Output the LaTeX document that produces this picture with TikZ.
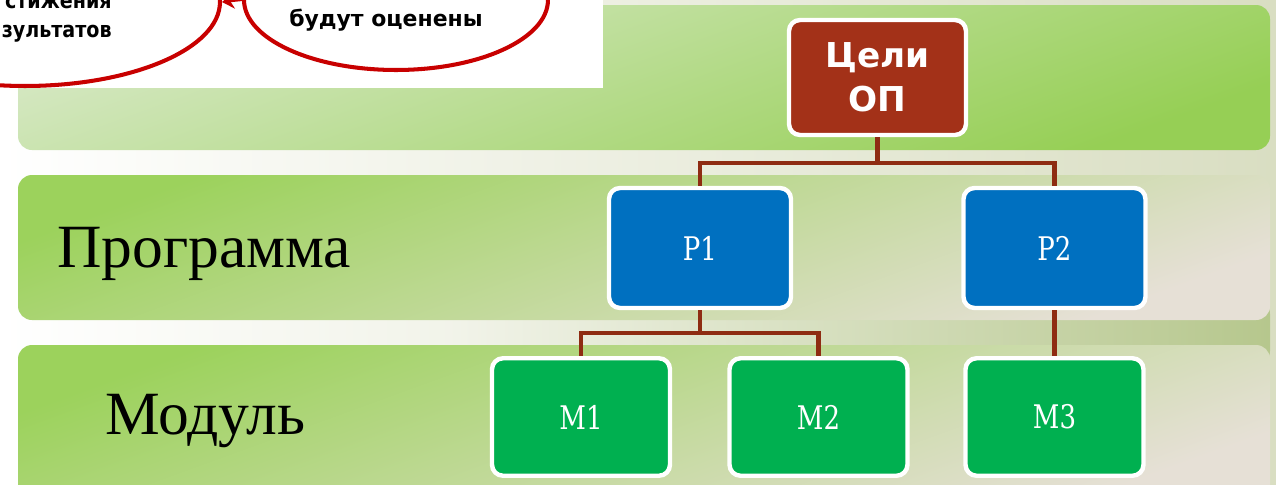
\documentclass[tikz,border=0pt]{standalone}
\usepackage{fontspec}
\setmainfont{Liberation Serif}
\newfontfamily\boxfont{DejaVu Sans}
\newfontfamily\slabfont[FakeStretch=0.8]{DejaVu Serif}
\usetikzlibrary{arrows.meta,shapes.geometric}

\definecolor{goalred}{HTML}{A33118}
\definecolor{progblue}{HTML}{0070C0}
\definecolor{modgreen}{HTML}{00B050}
\definecolor{linkbrown}{HTML}{8E2C12}
\definecolor{bubblered}{HTML}{C80000}
\definecolor{bandlight}{HTML}{D6E8C4}
\definecolor{banddark}{HTML}{96CF55}
\definecolor{bandgreen}{HTML}{9CD25C}
\definecolor{bandpale}{HTML}{E6E0D6}
\definecolor{gapright}{HTML}{D9DEC2}
\definecolor{gapshadow}{HTML}{B6C78D}

\tikzset{
  box/.style={rectangle, rounded corners=0.22cm, draw=white, line width=2.5pt, text=white, align=center},
  goalbox/.style={box, fill=goalred, minimum width=3.54cm, minimum height=2.3cm, font=\boxfont\bfseries\fontsize{19.5}{25}\selectfont},
  progbox/.style={box, fill=progblue, minimum width=3.64cm, minimum height=2.4cm, font=\slabfont\fontsize{18.5}{22}\selectfont},
  modbox/.style={progbox, fill=modgreen, minimum width=3.56cm, minimum height=2.35cm},
  link/.style={draw=linkbrown, line width=2.3pt},
  level/.style={anchor=base west, inner sep=0pt, font=\fontsize{35}{40}\selectfont},
  bubble/.style={ellipse, draw=bubblered, line width=2.3pt, fill=white, inner sep=0pt},
  bubbletext/.style={font=\boxfont\bfseries\fontsize{12.5}{16.5}\selectfont, inner sep=0pt}
}

\begin{document}
\begin{tikzpicture}[x=0.02cm, y=-0.02cm]
\useasboundingbox (0,0) rectangle (1276,484);
\clip (0,0) rectangle (1276,484);

\shade[left color=white, right color=gapright] (0,0) rectangle (1276,484);
\shade[rounded corners=0.28cm, left color=gapright!35!white, right color=gapshadow] (450,300) rectangle (1270,365);
\shade[rounded corners=0.28cm, top color=bandlight, bottom color=banddark, shading angle=20] (18,5) rectangle (1270,150);
\shade[rounded corners=0.28cm, top color=bandgreen, bottom color=bandpale, shading angle=20] (18,175) rectangle (1270,320);
\shade[rounded corners=0.28cm, top color=bandgreen, bottom color=bandpale, shading angle=20] (18,345) rectangle (1270,500);

\fill[white] (0,0) rectangle (603,88);
\begin{scope}
  \clip (0,0) rectangle (603,88);
  \node[bubble, minimum width=7.8cm, minimum height=3.36cm] (aim) at (25,2) {};
  \node[bubble, minimum width=6.08cm, minimum height=2.8cm] (how) at (396,0) {};
  \node[bubbletext, font=\boxfont\bfseries\fontsize{12.5}{16.5}\selectfont\addfontfeature{FakeStretch=0.87},
        align=right, anchor=east] (aimtext) at (112,19) {стижения\\зультатов};
  \node[bubbletext, anchor=base] (howtext) at (386,26) {будут оценены};
  \draw[bubblered, line width=1.2pt, -{Stealth[length=7pt,width=9pt]}] (how.west) -- (aim.east);
\end{scope}

\node[level] (prog) at (57,267) {Программа};
\node[level] (mod) at (105,434) {Модуль};

\node[goalbox] (goal) at (877.5,77.5) {Цели\\ОП};
\node[progbox] (p1) at (700,248) {Р1};
\node[progbox] (p2) at (1054.5,248) {Р2};
\node[modbox] (m1) at (581,417) {М1};
\node[modbox] (m2) at (818.5,417) {М2};
\node[modbox] (m3) at (1054.5,417) {М3};

\draw[link] (goal.south) -- ++(0,26) -| (p1.north);
\draw[link] (goal.south) -- ++(0,26) -| (p2.north);
\draw[link] (p1.south) -- ++(0,23) -| (m1.north);
\draw[link] (p1.south) -- ++(0,23) -| (m2.north);
\draw[link] (p2.south) -- (m3.north);
\end{tikzpicture}
\end{document}
